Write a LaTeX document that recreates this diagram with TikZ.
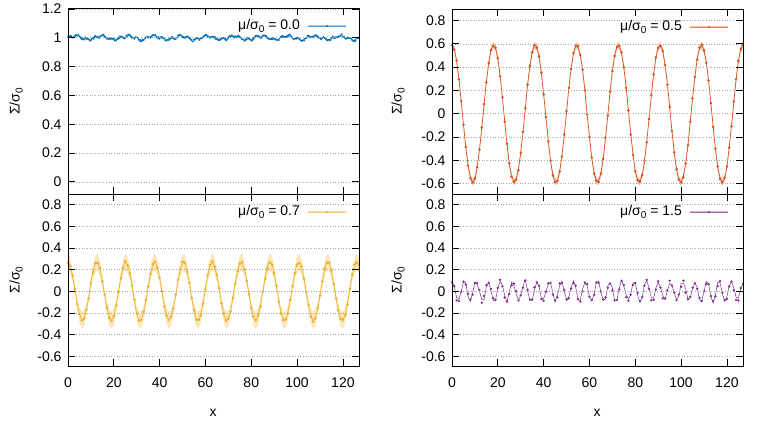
\documentclass[tikz,border=0pt]{standalone}
\usepackage{fontspec}
\setmainfont{Liberation Sans}
\usetikzlibrary{positioning}
\definecolor{cblue}{RGB}{0,114,189}
\definecolor{corange}{RGB}{217,83,25}
\definecolor{cyellow}{RGB}{237,177,32}
\definecolor{cpurple}{RGB}{126,47,142}
\newcommand\lowzero{{\fontsize{10}{10}\selectfont\raisebox{-3pt}{0}}}
% frame, grid and ticks of one panel: name, ymin, ymax, y ticks, x labels
\newcommand\panelframe[5]{%
  \foreach[count=\i] \yv in {#4} {
    \draw[grid line] (0,\yv) -- (127,\yv);
    \draw[frame] (0,\yv) -- ++(7pt,0) (127,\yv) -- ++(-7pt,0);
    \node (#1y\i) [left=3pt] at (0,\yv) {\yv};
  }
  \foreach[count=\i] \xv in {0,20,...,120} {
    \draw[frame] (\xv,#2) -- ++(0,7pt) (\xv,#3) -- ++(0,-7pt);
    \ifnum#5=1
      \node (#1x\i) [below=8pt] at (\xv,#2) {\xv};
    \fi
  }
  \draw[frame] (0,#2) rectangle (127,#3);
}
\begin{document}
\begin{tikzpicture}[x=1pt, y=1pt, font=\fontsize{14}{16}\selectfont]
  \tikzset{
    grid line/.style={gray!70, dotted, line width=0.7pt},
    frame/.style={black, line width=0.8pt},
    curve/.style={line width=0.7pt, mark=*, mark size=0.9pt},
    band/.style={opacity=0.3, draw=none},
    key line/.style={line width=0.7pt},
  }
  \useasboundingbox (0,0) rectangle (763,430);
  \pgfmathsetseed{11}

  % top left
  \begin{scope}[shift={(68,248.1)}, x=2.291pt, y=144.1pt]
    \draw[curve, cblue, mark size=0.5pt] plot[domain=0:127, samples=255]
      (\x,{1+0.012*sin(31*\x)+0.008*sin(97*\x+40)+0.007*rand});
    \panelframe{tl}{-0.084}{1.205}{0,0.2,0.4,0.6,0.8,1,1.2}{0}
  \end{scope}

  % bottom left
  \begin{scope}[shift={(68,138.7)}, x=2.291pt, y=108.2pt]
    \fill[band, cyellow] plot[domain=0:127, samples=128]
        (\x,{0.27*cos(28.571*\x)+0.03+0.05*abs(cos(28.571*\x))})
      -- plot[domain=127:0, samples=128]
        (\x,{0.27*cos(28.571*\x)-0.03-0.05*abs(cos(28.571*\x))}) -- cycle;
    \draw[curve, cyellow] plot[domain=0:127, samples=128]
      (\x,{0.27*cos(28.571*\x)+0.01*rand});
    \panelframe{bl}{-0.69}{0.9}{-0.6,-0.4,-0.2,0,0.2,0.4,0.6,0.8}{1}
  \end{scope}

  % top right
  \begin{scope}[shift={(452,316.3)}, x=2.291pt, y=116.4pt]
    \fill[band, corange] plot[domain=0:127, samples=128]
        (\x,{0.59*cos(19.835*\x)+0.01+0.02*abs(cos(19.835*\x))})
      -- plot[domain=127:0, samples=128]
        (\x,{0.59*cos(19.835*\x)-0.01-0.02*abs(cos(19.835*\x))}) -- cycle;
    \draw[curve, corange] plot[domain=0:127, samples=128]
      (\x,{0.59*cos(19.835*\x)+0.006*rand});
    \panelframe{tr}{-0.69}{0.9}{-0.6,-0.4,-0.2,0,0.2,0.4,0.6,0.8}{0}
  \end{scope}

  % bottom right
  \begin{scope}[shift={(452,138.7)}, x=2.291pt, y=108.2pt]
    \draw[curve, cpurple, line width=0.5pt] plot[domain=0:127, samples=128]
      (\x,{0.09*cos(67.925*\x)+0.02*rand});
    \panelframe{br}{-0.69}{0.9}{-0.6,-0.4,-0.2,0,0.2,0.4,0.6,0.8}{1}
  \end{scope}

  % keys
  \foreach[count=\i] \kx/\ky/\col/\val in {300/404/cblue/0.0, 682/403/corange/0.5,
      300/218/cyellow/0.7, 682/218/cpurple/1.5} {
    \node (key\i) [anchor=east, inner sep=0pt] at (\kx,\ky) {μ/σ\lowzero\ = \val};
    \draw[\col!35, line width=2.5pt] (key\i.east) ++(8,0) -- ++(38,0);
    \draw[key line, \col!70] (key\i.east) ++(8,0) -- ++(38,0);
    \fill[\col] (key\i.east) ++(27,0) circle (1.2pt);
  }

  % axis titles
  \node (ylabtl) [rotate=90] at (16,328.5) {Σ/σ\lowzero};
  \node (ylabbl) [rotate=90] at (16,150) {Σ/σ\lowzero};
  \node (ylabtr) [rotate=90] at (398,328.5) {Σ/σ\lowzero};
  \node (ylabbr) [rotate=90] at (398,150) {Σ/σ\lowzero};
  \node (xlabl) at (213,17) {x};
  \node (xlabr) at (597,17) {x};
\end{tikzpicture}
\end{document}
